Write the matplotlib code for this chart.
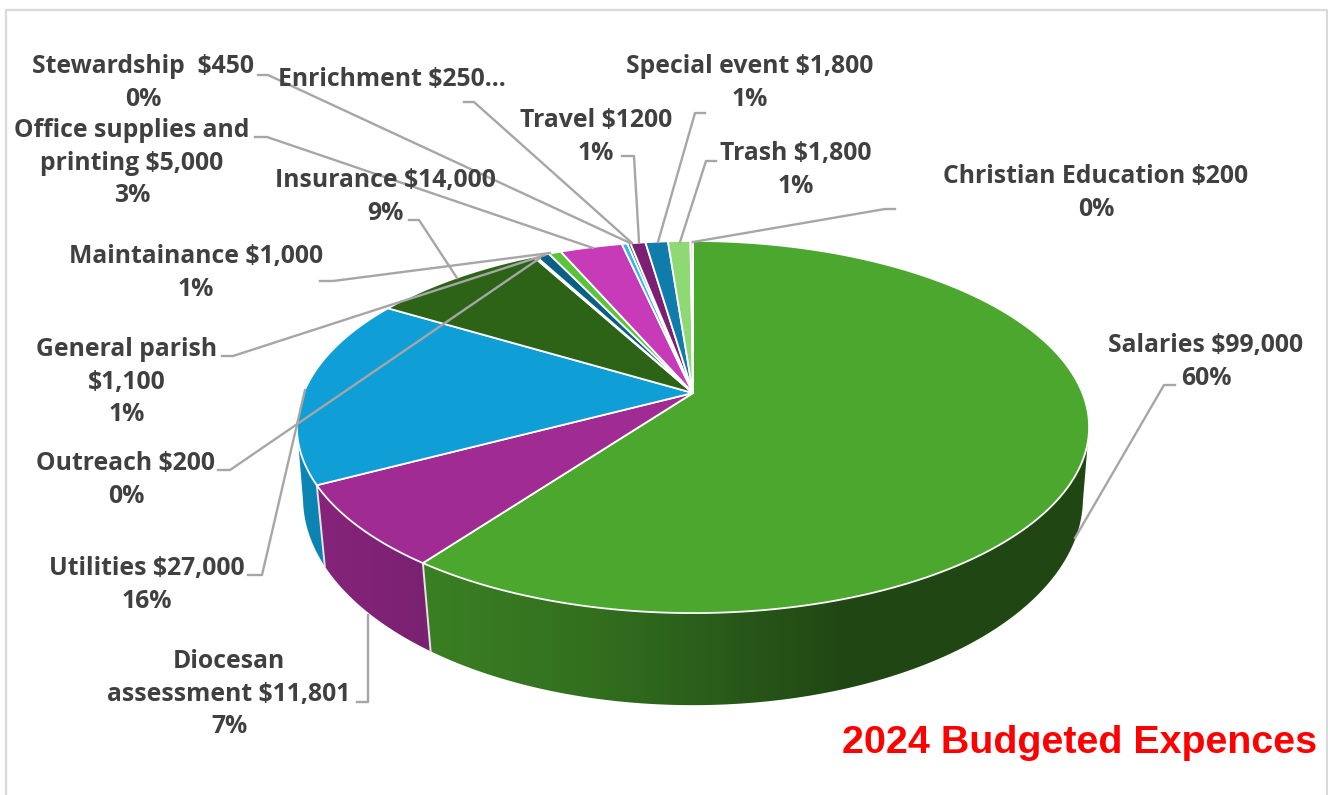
import numpy as np
import matplotlib
matplotlib.use("Agg")
import matplotlib.pyplot as plt
from matplotlib.patches import Polygon

# budget data, clockwise from 12 o'clock
names = ["Salaries", "Diocesan", "Utilities", "Insurance", "Outreach", "General parish",
         "Maintainance", "Office", "Stewardship", "Enrichment", "Travel", "Special event",
         "Trash", "Christian Education"]
amounts = [99000, 11801, 27000, 14000, 200, 1100, 1000, 5000, 450, 250, 1200, 1800, 1800, 200]
colors = ["#4CA72E", "#A02B93", "#0F9ED5", "#2C6317", "#CFC4CF", "#0B5F85", "#5BC338",
          "#C83BB8", "#36B6EE", "#3B7D23", "#7B2072", "#0F7CAB", "#8ED973", "#E8BFE0"]

labels = ["Salaries $99,000\n60%", "Diocesan\nassessment $11,801\n7%", "Utilities $27,000\n16%",
          "Insurance $14,000\n9%", "Outreach $200\n0%", "General parish\n$1,100\n1%",
          "Maintainance $1,000\n1%", "Office supplies and\nprinting $5,000\n3%",
          "Stewardship  $450\n0%", "Enrichment $250...", "Travel $1200\n1%",
          "Special event $1,800\n1%", "Trash $1,800\n1%", "Christian Education $200\n0%"]

# label centres in pixels
label_x = [1206, 229, 147, 385, 126, 127, 196, 132, 143, 392, 596, 750, 796, 1096]
label_y = [362, 694, 585, 197, 480, 382, 273, 163, 83, 80, 137, 83, 170, 193]

# leader lines (x list, y list)
leaders = [
    ([1175, 1164, 1075], [385, 385, 538]),
    ([357, 368, 368], [702, 702, 615]),
    ([248, 262, 305], [575, 575, 390]),
    ([409, 419, 457], [220, 220, 278]),
    ([218, 230, 540], [470, 470, 258]),
    ([222, 233, 545], [356, 356, 255]),
    ([320, 333, 550], [281, 281, 253]),
    ([255, 267, 593], [137, 137, 248]),
    ([258, 268, 630], [75, 75, 243]),
    ([464, 474, 632], [102, 102, 243]),
    ([622, 634, 639], [156, 156, 242]),
    ([705, 695, 658], [113, 113, 242]),
    ([716, 706, 680], [161, 161, 242]),
    ([895, 885, 693], [209, 209, 242]),
]

fig = plt.figure(figsize=(13.28, 7.95), dpi=100)
ax = fig.add_axes([0, 0, 1, 1])
ax.axis("off")


# perspective projection of the unit disc
def project(theta, a=389.4, c=393.0, b=108.0, k=-0.1828):
    x = np.sin(theta)
    y = -np.cos(theta)
    d = 1 + k * y
    return 693 + a * x / d, (c + b * y) / d


def bottom(theta):
    return project(theta, a=384.6, c=463.9, b=124.9, k=-0.165)


def side_gradient(base, xs):
    f = np.interp(xs, [300, 430, 600, 850, 1100], [0.85, 0.76, 0.66, 0.42, 0.42])
    return np.array(matplotlib.colors.to_rgb(base))[None, None, :] * f[None, :, None]


edges = np.concatenate([[0], np.cumsum(amounts)]) / np.sum(amounts) * 2 * np.pi

# where the wall leaves the top disc
wall_start = np.radians(100.4)
wall_end = 2 * np.pi - wall_start

# side wall, one gradient image clipped to each slice
for i in range(len(amounts)):
    t0, t1 = max(edges[i], wall_start), min(edges[i + 1], wall_end)
    if t1 <= t0:
        continue
    tt = np.linspace(t0, t1, 300)
    xt, yt = project(tt)
    xb, yb = bottom(tt)
    outline = np.c_[np.r_[xt, xb[::-1]], np.r_[yt, yb[::-1]]]
    gx = np.arange(outline[:, 0].min() - 2, outline[:, 0].max() + 3)
    im = ax.imshow(side_gradient(colors[i], gx), aspect="auto", interpolation="bilinear", zorder=2,
                   extent=(gx[0], gx[-1], outline[:, 1].max() + 2, outline[:, 1].min() - 2))
    clip = Polygon(outline, closed=True, transform=ax.transData, facecolor="none", edgecolor="none")
    ax.add_patch(clip)
    im.set_clip_path(clip)
    if edges[i + 1] < wall_end:
        xa, ya = project(edges[i + 1])
        xc, yc = bottom(edges[i + 1])
        ax.plot([xa, xc], [ya, yc], color="#E4E4E4", lw=1.4, zorder=3)

# top face
for i in range(len(amounts)):
    tt = np.linspace(edges[i], edges[i + 1], max(3, int((edges[i + 1] - edges[i]) * 90)))
    xs, ys = project(tt)
    ax.fill(np.r_[693, xs], np.r_[393, ys], facecolor=colors[i], edgecolor="white",
            lw=1.3, zorder=4, joinstyle="round")

for lx, ly in leaders:
    ax.plot(lx, ly, color="#A6A6A6", lw=1.7, zorder=5, solid_joinstyle="round")

for txt, x, y in zip(labels, label_x, label_y):
    ax.text(x, y, txt, ha="center", va="center", ma="center", fontsize=17.8,
            family="Open Sans", weight="bold", color="#404040", linespacing=1.39, zorder=6)

ax.text(1317, 743, "2024 Budgeted Expences", ha="right", va="center", fontsize=28.4,
        family="Liberation Sans", weight="bold", color="#FF0000", zorder=6)

# chart frame
ax.plot([6, 6, 1327, 1327], [795, 10, 10, 795], color="#D9D9D9", lw=1.6, zorder=1)

ax.set_xlim(0, 1328)
ax.set_ylim(795, 0)

fig.savefig("out.png", dpi=100)
